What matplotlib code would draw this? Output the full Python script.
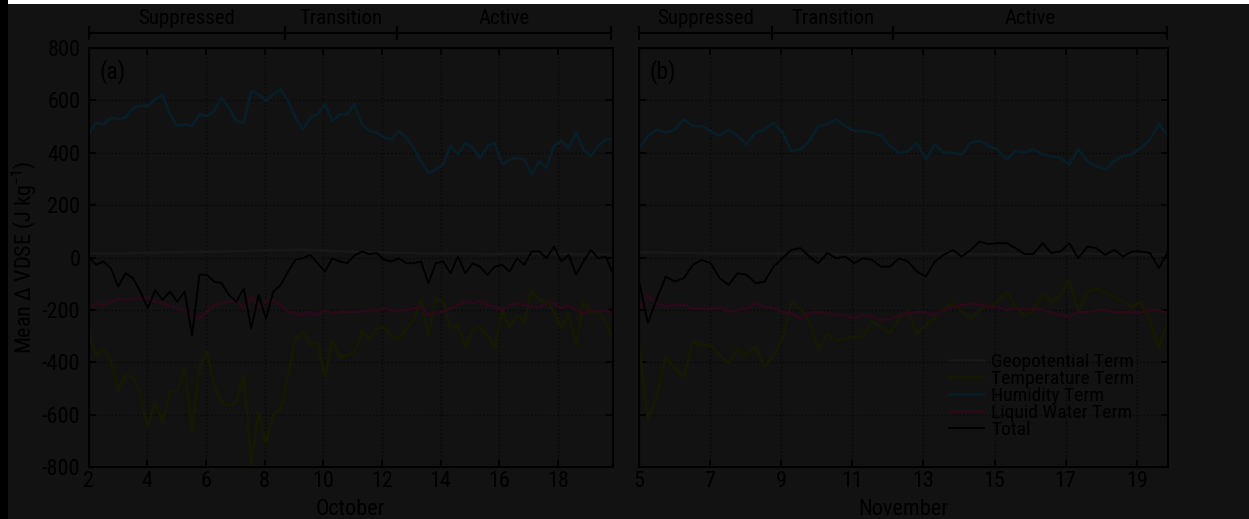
import numpy as np
import matplotlib
matplotlib.use('Agg')
import matplotlib.pyplot as plt
import matplotlib.transforms as mtransforms
from matplotlib import font_manager
from matplotlib.patches import Rectangle

names = set(f.name for f in font_manager.fontManager.ttflist)
family = 'Liberation Sans'
for cand in ['Liberation Sans Narrow', 'Arial Narrow', 'Roboto Condensed', 'Open Sans Condensed']:
  if cand in names:
    family = cand
    break
plt.rcParams['font.family'] = [family, 'DejaVu Sans']
plt.rcParams['mathtext.fontset'] = 'custom'
plt.rcParams['mathtext.rm'] = family
plt.rcParams['mathtext.default'] = 'regular'
plt.rcParams['axes.unicode_minus'] = False

# October panel (a), 6-hourly values from 2 Oct
oct_humidity = [470, 515, 509, 534, 528, 534, 572, 579, 579, 604, 623, 547,
                502, 509, 502, 547, 540, 560, 611, 572, 521, 515, 636, 623,
                598, 623, 643, 598, 534, 489, 534, 547, 585, 521, 547, 547,
                585, 509, 483, 477, 458, 451, 483, 458, 419, 368, 323, 336,
                355, 426, 394, 438, 419, 381, 426, 438, 355, 374, 381, 374,
                317, 368, 342, 426, 445, 419, 477, 413, 387, 426, 451, 451]
oct_temperature = [-284, -373, -348, -399, -507, -450, -456, -527, -648, -552, -629, -514,
                   -507, -424, -667, -424, -360, -488, -552, -565, -552, -450, -790, -591,
                   -706, -603, -578, -450, -309, -284, -335, -322, -456, -316, -380, -373,
                   -360, -284, -309, -271, -265, -303, -309, -271, -239, -162, -297, -156,
                   -169, -271, -258, -341, -277, -265, -297, -348, -201, -265, -220, -245,
                   -124, -162, -169, -207, -271, -213, -335, -169, -213, -207, -245, -316]
oct_total = [4, -28, -15, -41, -111, -60, -79, -130, -194, -124, -162, -130,
             -169, -130, -297, -66, -66, -92, -98, -143, -169, -118, -271, -143,
             -233, -130, -105, -54, -9, -3, 10, -22, -54, -3, -15, -22,
             8, 23, 13, 17, -9, -15, -3, -22, -22, -15, -98, -22,
             -15, -60, 4, -60, -22, -35, -66, -35, -28, -54, -3, -28,
             23, 23, -3, 42, -15, 10, -66, -15, 29, -3, 4, -60]
oct_liquid = [-188, -175, -182, -169, -156, -162, -156, -156, -156, -169, -175, -182,
              -194, -201, -220, -233, -207, -182, -175, -169, -162, -194, -150, -188,
              -169, -162, -182, -207, -213, -220, -207, -220, -201, -213, -207, -207,
              -207, -207, -201, -204, -194, -201, -204, -201, -194, -188, -220, -207,
              -207, -194, -182, -169, -175, -166, -182, -188, -201, -182, -175, -182,
              -188, -188, -175, -175, -194, -182, -201, -213, -201, -207, -201, -213]
oct_geopotential = [15, 15, 18, 20, 22, 25, 28, 30, 25, 20, 18, 15, 15, 12, 15, 15, 12, 12]

# November panel (b), 6-hourly values from 5 Nov
nov_humidity = [417, 464, 489, 477, 489, 528, 502, 502, 483, 464, 489, 464,
                432, 477, 489, 515, 477, 406, 413, 445, 502, 509, 528, 502,
                483, 483, 477, 464, 426, 400, 405, 438, 374, 432, 400, 400,
                394, 438, 445, 426, 413, 374, 406, 400, 413, 394, 387, 381,
                355, 413, 368, 349, 336, 368, 387, 394, 419, 451, 509, 464]
nov_temperature = [-335, -620, -527, -380, -424, -456, -322, -335, -335, -373, -405, -348,
                   -373, -341, -418, -373, -309, -169, -194, -245, -348, -290, -316, -309,
                   -303, -303, -245, -265, -290, -233, -201, -290, -258, -233, -194, -175,
                   -207, -233, -201, -188, -169, -130, -188, -220, -201, -143, -169, -143,
                   -86, -207, -130, -118, -137, -150, -169, -188, -169, -245, -348, -233]
nov_total = [-92, -250, -156, -73, -92, -79, -28, -9, -22, -79, -105, -60,
             -66, -98, -92, -35, -3, 29, 36, 4, -22, 17, -3, 4,
             -22, -3, -9, -35, -35, -3, -15, -54, -73, -15, 10, 29,
             4, 29, 61, 51, 55, 55, 36, 13, 13, 55, 17, 23,
             55, -3, 42, 36, 10, 29, 4, 23, 23, 17, -41, 23]
nov_liquid = [-194, -143, -175, -188, -179, -182, -197, -194, -197, -191, -207, -201,
              -194, -175, -188, -194, -207, -213, -233, -213, -207, -213, -220, -220,
              -233, -217, -226, -239, -235, -220, -213, -207, -209, -220, -201, -188,
              -182, -175, -182, -188, -188, -201, -194, -197, -194, -201, -209, -220,
              -226, -207, -209, -201, -201, -207, -209, -207, -209, -201, -201, -213]
nov_geopotential = [20, 18, 15, 15, 15, 12, 12, 15, 15, 12, 12, 15, 15, 12, 12]

oct_phases = [2.0, 8.68, 12.52, 19.8]
nov_phases = [5.0, 8.75, 12.15, 19.85]
phase_names = ['Suppressed', 'Transition', 'Active']

bg = '#121212'
ink = '#000000'
colors = {'Geopotential Term': '#181818',
          'Temperature Term': '#161901',
          'Humidity Term': '#071e29',
          'Liquid Water Term': '#2a0918',
          'Total': '#000000'}


def draw_phases(ax, bounds):
  trans = mtransforms.blended_transform_factory(ax.transData, ax.transAxes)
  ax.plot([bounds[0], bounds[-1]], [1.036, 1.036], color=ink, lw=1.4,
          transform=trans, clip_on=False)
  for b in bounds:
    ax.plot([b, b], [1.021, 1.051], color=ink, lw=1.4, transform=trans, clip_on=False)
  for i, name in enumerate(phase_names):
    ax.text((bounds[i] + bounds[i + 1]) / 2, 1.07, name, transform=trans,
            ha='center', va='center', fontsize=15, color=ink)


def draw_panel(ax, start, geo, temp, hum, liq, tot, xticks, month, label):
  t = np.linspace(start, 19.875, len(hum))
  tg = np.linspace(start, 19.875, len(geo))
  ax.set_facecolor(bg)
  ax.plot(tg, geo, color=colors['Geopotential Term'], lw=1.8, label='Geopotential Term')
  ax.plot(t, temp, color=colors['Temperature Term'], lw=1.9, label='Temperature Term')
  ax.plot(t, hum, color=colors['Humidity Term'], lw=1.9, label='Humidity Term')
  ax.plot(t, liq, color=colors['Liquid Water Term'], lw=1.9, label='Liquid Water Term')
  ax.plot(t, tot, color=colors['Total'], lw=1.3, label='Total')
  ax.set_xlim(start, 19.875)
  ax.set_ylim(-800, 800)
  ax.set_xticks(xticks)
  ax.set_yticks(np.arange(-800, 801, 200))
  ax.grid(True, linestyle=':', color='#070707', lw=1.0)
  ax.tick_params(direction='in', top=True, right=True, length=5, width=1.2,
                 colors=ink, labelsize=16)
  ax.tick_params(axis='y', pad=6)
  ax.tick_params(axis='x', pad=3)
  for s in ax.spines.values():
    s.set_color(ink)
    s.set_linewidth(1.5)
  ax.set_xlabel(month, fontsize=16, color=ink, labelpad=5)
  ax.text(0.02, 0.943, label, transform=ax.transAxes, fontsize=17,
          ha='left', va='center', color=ink)


fig = plt.figure(figsize=(12.49, 5.19), dpi=100, facecolor=bg)
ax_a = fig.add_axes([0.0710, 0.1002, 0.4198, 0.8073])
ax_b = fig.add_axes([0.5116, 0.1002, 0.4235, 0.8073])

draw_panel(ax_a, 2.0, oct_geopotential, oct_temperature, oct_humidity, oct_liquid,
           oct_total, np.arange(2, 19, 2), 'October', '(a)')
draw_panel(ax_b, 5.0, nov_geopotential, nov_temperature, nov_humidity, nov_liquid,
           nov_total, np.arange(5, 20, 2), 'November', '(b)')
ax_b.set_yticklabels([])

ax_a.set_ylabel('Mean \u0394 VDSE (J kg$^{-1}$)', fontsize=16, color=ink, labelpad=2)

draw_phases(ax_a, oct_phases)
draw_phases(ax_b, nov_phases)

ax_b.legend(loc='upper left', bbox_to_anchor=(0.586, 0.272), frameon=False, fontsize=14,
            labelspacing=-0.05, handlelength=1.8, handletextpad=0.36, borderpad=0,
            borderaxespad=0, labelcolor=ink)

# edge strips seen in the reference
fig.patches.append(Rectangle((0, 0), 8 / 1249, 1, transform=fig.transFigure,
                             facecolor='#000000', edgecolor='none', zorder=10))
fig.patches.append(Rectangle((8 / 1249, 1 - 4 / 519), 1, 4 / 519, transform=fig.transFigure,
                             facecolor='#ffffff', edgecolor='none', zorder=10))

fig.savefig('out.png', dpi=100, facecolor=bg)
